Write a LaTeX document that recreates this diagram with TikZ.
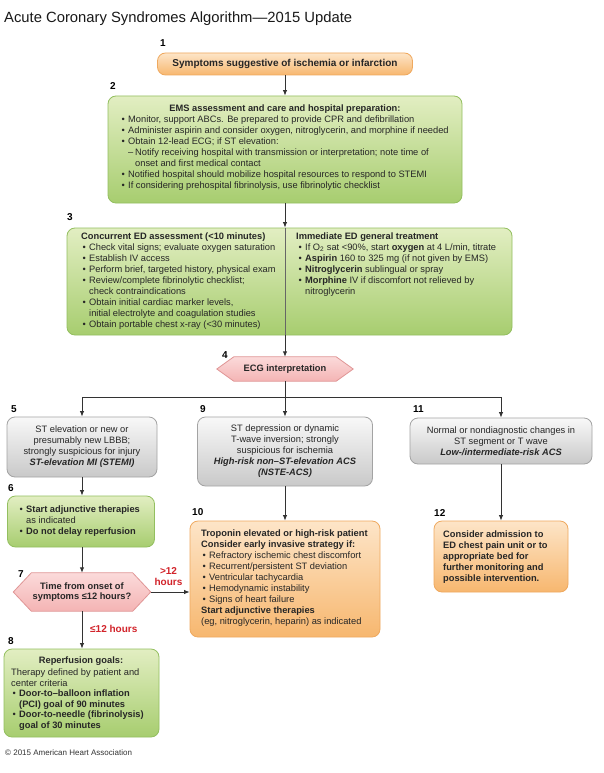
\documentclass[tikz,border=0pt]{standalone}
\usepackage{fontspec}
\setmainfont{Liberation Sans}
\usetikzlibrary{arrows.meta,calc}
\definecolor{otop}{HTML}{FDE5C8}
\definecolor{obot}{HTML}{F7B76F}
\definecolor{oborder}{HTML}{EFA95F}
\definecolor{gtop}{HTML}{E2EEC2}
\definecolor{gbot}{HTML}{A7CD6F}
\definecolor{gborder}{HTML}{93BF5F}
\definecolor{grtop}{HTML}{F8F8F8}
\definecolor{grbot}{HTML}{C9C9C9}
\definecolor{grborder}{HTML}{A3A3A3}
\definecolor{ptop}{HTML}{FBDADA}
\definecolor{pbot}{HTML}{F4B4B4}
\definecolor{pborder}{HTML}{E09696}
\definecolor{redlbl}{HTML}{D2232A}
\definecolor{linecol}{HTML}{333333}
\definecolor{txtcol}{HTML}{262626}
\newcommand\bodyf{\fontsize{9.3}{11}\selectfont}
\newcommand\numf{\fontsize{10}{11}\selectfont\bfseries}
\newcommand\mybul{\makebox[6.5pt][l]{\textbullet}}
\newcommand\myind{\hspace*{6.5pt}}
\newcommand\tstrut{\rule{0pt}{7pt}}
\pgfdeclarelayer{bg}
\pgfdeclarelayer{shp}
\pgfsetlayers{bg,shp,main}
\tikzset{
  box/.style={draw, rounded corners=8pt, line width=0.8pt, inner sep=0pt},
  greenbox/.style={box, draw=gborder, top color=gtop, bottom color=gbot},
  orangebox/.style={box, draw=oborder, top color=otop, bottom color=obot},
  graybox/.style={box, draw=grborder, top color=grtop, bottom color=grbot, align=center, font=\bodyf, text=txtcol},
  txt/.style={anchor=north west, inner sep=0pt, align=left, font=\bodyf, text=txtcol},
  hdr/.style={anchor=base, inner sep=0pt, font=\bodyf\bfseries, text=txtcol},
  num/.style={anchor=west, inner sep=0pt, font=\numf, text=black},
  hexlbl/.style={inner sep=0pt, align=center, text=txtcol},
  hexshape/.style={draw=pborder, line width=0.8pt, top color=ptop, bottom color=pbot},
  redtxt/.style={inner sep=0pt, font=\fontsize{10}{11}\selectfont\bfseries, text=redlbl, align=center},
  arr/.style={-{Latex[length=5.5pt,width=4.5pt]}, line width=0.9pt, draw=linecol},
  plain/.style={line width=0.9pt, draw=linecol},
  divider/.style={line width=0.8pt, draw=black!60},
}
\begin{document}
\begin{tikzpicture}[x=1pt, y=-1pt]
\begin{pgfonlayer}{bg}
\fill[white] (0,0) rectangle (603,773);
\end{pgfonlayer}
\useasboundingbox (0,0) rectangle (603,773);

% title
\node[anchor=base west, inner sep=0pt, font=\fontsize{14.8}{16}\selectfont, text=black!90] (title) at (4,23) {Acute Coronary Syndromes Algorithm—2015 Update};

% boxes
\node[orangebox, minimum width=255pt, minimum height=22pt, font=\fontsize{10}{12}\selectfont\bfseries, text=txtcol] (box1) at (285,64) {Symptoms suggestive of ischemia or infarction};
\node[greenbox, minimum width=354pt, minimum height=107pt] (box2) at (285,149.5) {};
\node[greenbox, minimum width=445pt, minimum height=107pt] (box3) at (289.5,281.5) {};
\node[hexlbl, minimum width=102pt, minimum height=24pt, font=\bodyf\bfseries] (ecg) at (285,369) {ECG interpretation};

\node[graybox, minimum width=150pt, minimum height=60pt] (box5) at (82,447) {ST elevation or new or\\presumably new LBBB;\\strongly suspicious for injury\\\textbf{\textit{ST-elevation MI (STEMI)}}};
\node[graybox, minimum width=175pt, minimum height=69pt] (box9) at (285,451.5) {ST depression or dynamic\\T-wave inversion; strongly\\suspicious for ischemia\\\textbf{\textit{High-risk non–ST-elevation ACS}}\\\textbf{\textit{(NSTE-ACS)}}};
\node[graybox, minimum width=182pt, minimum height=46pt] (box11) at (501,441) {Normal or nondiagnostic changes in\\ST segment or T wave\\\textbf{\textit{Low-/intermediate-risk ACS}}};

\node[greenbox, minimum width=147pt, minimum height=51pt] (box6) at (81,521.5) {};
\node[orangebox, minimum width=190pt, minimum height=116pt] (box10) at (285,579) {};
\node[orangebox, minimum width=134pt, minimum height=71pt] (box12) at (501,556.5) {};
\node[hexlbl, minimum width=101pt, minimum height=38pt, font=\fontsize{9.3}{10.5}\selectfont\bfseries] (hex7) at (82,592) {Time from onset of\\symptoms ≤12 hours?};
\node[greenbox, minimum width=155pt, minimum height=88pt] (box8) at (81.5,693) {};

% hexagon outlines
\begin{pgfonlayer}{shp}
\draw[hexshape] (ecg.north west) -- (ecg.north east) -- ([xshift=17pt]ecg.east) -- (ecg.south east) -- (ecg.south west) -- ([xshift=-17pt]ecg.west) -- cycle;
\draw[hexshape] (hex7.north west) -- (hex7.north east) -- ([xshift=18pt]hex7.east) -- (hex7.south east) -- (hex7.south west) -- ([xshift=-18pt]hex7.west) -- cycle;
\end{pgfonlayer}

% texts
\node[hdr] (t2h) at (285,111.5) {EMS assessment and care and hospital preparation:};
\node[txt] (t2) at (121.5,115.3) {\tstrut\mybul Monitor, support ABCs. Be prepared to provide CPR and defibrillation\\
\mybul Administer aspirin and consider oxygen, nitroglycerin, and morphine if needed\\
\mybul Obtain 12-lead ECG; if ST elevation:\\
\myind\makebox[7pt][l]{–}Notify receiving hospital with transmission or interpretation; note time of\\
\myind\hspace*{7pt}onset and first medical contact\\
\mybul Notified hospital should mobilize hospital resources to respond to STEMI\\
\mybul If considering prehospital fibrinolysis, use fibrinolytic checklist};

\node[txt] (t3a) at (82.5,232.3) {\tstrut\hspace*{-1.5pt}\textbf{Concurrent ED assessment (<10 minutes)}\\
\mybul Check vital signs; evaluate oxygen saturation\\
\mybul Establish IV access\\
\mybul Perform brief, targeted history, physical exam\\
\mybul Review/complete fibrinolytic checklist;\\
\myind check contraindications\\
\mybul Obtain initial cardiac marker levels,\\
\myind initial electrolyte and coagulation studies\\
\mybul Obtain portable chest x-ray (<30 minutes)};

\node[txt] (t3b) at (298.5,232.3) {\tstrut\hspace*{-2.5pt}\textbf{Immediate ED general treatment}\\
\mybul If O\textsubscript{2} sat <90\%, start \textbf{oxygen} at 4 L/min, titrate\\
\mybul \textbf{Aspirin} 160 to 325 mg (if not given by EMS)\\
\mybul \textbf{Nitroglycerin} sublingual or spray\\
\mybul \textbf{Morphine} IV if discomfort not relieved by\\
\myind nitroglycerin};

\node[txt] (t6) at (19.5,505.3) {\tstrut\mybul\textbf{Start adjunctive therapies}\\
\myind as indicated\\
\mybul\textbf{Do not delay reperfusion}};

\node[txt] (t10) at (202.5,529.3) {\tstrut\hspace*{-1.5pt}\textbf{Troponin elevated or high-risk patient}\\
\hspace*{-1.5pt}\textbf{Consider early invasive strategy if:}\\
\mybul Refractory ischemic chest discomfort\\
\mybul Recurrent/persistent ST deviation\\
\mybul Ventricular tachycardia\\
\mybul Hemodynamic instability\\
\mybul Signs of heart failure\\
\hspace*{-1.5pt}\textbf{Start adjunctive therapies}\\
\hspace*{-1.5pt}(eg, nitroglycerin, heparin) as indicated};

\node[txt, font=\bodyf\bfseries] (t12) at (443,530.3) {\tstrut Consider admission to\\ED chest pain unit or to\\appropriate bed for\\further monitoring and\\possible intervention.};

\node[hdr] (t8h) at (81,663.3) {Reperfusion goals:};
\node[txt, font=\fontsize{9.3}{10.5}\selectfont] (t8) at (11,668.3) {\tstrut Therapy defined by patient and\\
center criteria\\
\hspace*{1.5pt}\mybul\textbf{Door-to–balloon inflation}\\
\hspace*{8pt}\textbf{(PCI) goal of 90 minutes}\\
\hspace*{1.5pt}\mybul\textbf{Door-to-needle (fibrinolysis)}\\
\hspace*{8pt}\textbf{goal of 30 minutes}};

% step numbers
\node[num] (n1) at (160,43) {1};
\node[num] (n2) at (110,86) {2};
\node[num] (n3) at (67,217) {3};
\node[num] (n4) at (222,355) {4};
\node[num] (n5) at (11,409) {5};
\node[num] (n6) at (8,488) {6};
\node[num] (n7) at (18,574) {7};
\node[num] (n8) at (8,641) {8};
\node[num] (n9) at (200,409) {9};
\node[num] (n10) at (192,512) {10};
\node[num] (n11) at (413,409) {11};
\node[num] (n12) at (434,513) {12};

% connectors
\coordinate (split) at (285,397);
\draw[arr] (box1.south) -- (box1.south |- box2.north);
\draw[arr] (box2.south) -- (box2.south |- box3.north);
\draw[divider] (box2.south |- box3.north) -- (box2.south |- box3.south);
\draw[arr] (box2.south |- box3.south) -- (ecg.north);
\draw[arr] (ecg.south) -- (box9.north);
\draw[arr] (split) -| (box5.north);
\draw[arr] (split) -| (box11.north);
\draw[arr] (box5.south) -- (box5.south |- box6.north);
\draw[arr] (box5.south |- box6.south) -- (hex7.north);
\draw[arr] (hex7.south) -- (hex7.south |- box8.north);
\draw[arr] ([xshift=18pt]hex7.east) -- (box10.west |- hex7.east);
\draw[arr] (box9.south) -- (box10.north);
\draw[arr] (box11.south) -- (box11.south |- box12.north);

% branch labels
\node[redtxt] (lgt) at (168.5,576.5) {>12\\hours};
\node[redtxt, anchor=west] (lle) at (90,629) {≤12 hours};

% footer
\node[anchor=base west, inner sep=0pt, font=\fontsize{8}{9}\selectfont, text=black!80] (foot) at (5,755) {© 2015 American Heart Association};
\end{tikzpicture}
\end{document}
